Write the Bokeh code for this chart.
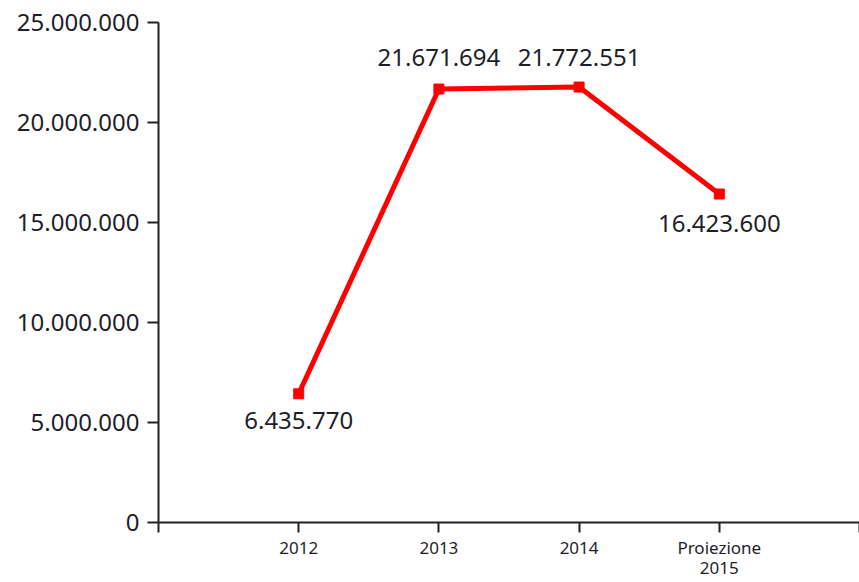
from bokeh.plotting import figure
from bokeh.models import FixedTicker, ColumnDataSource, Range1d
from bokeh.core.properties import value
from bokeh.embed import file_html
from bokeh.resources import INLINE

# ---- data ----
categories = ["2012", "2013", "2014", "Proiezione\n2015"]
cat_pos = [1, 2, 3, 4]
values = [6435770, 21671694, 21772551, 16423600]
value_labels = ["6.435.770", "21.671.694", "21.772.551", "16.423.600"]
y_ticks = [0, 5000000, 10000000, 15000000, 20000000, 25000000]
y_tick_labels = ["0", "5.000.000", "10.000.000", "15.000.000", "20.000.000", "25.000.000"]

# styling: label pixel offsets (positive = down)
label_offsets = [27, -32, -30, 29]

FONT = "Noto Sans"

p = figure(width=859, height=582, output_backend="svg", toolbar_location=None,
           x_range=Range1d(0, 5), y_range=Range1d(0, 25000000),
           min_border_left=158, min_border_right=0, min_border_top=22, min_border_bottom=60)
p.outline_line_color = None
p.xgrid.visible = False
p.ygrid.visible = False
p.background_fill_color = "white"
p.border_fill_color = "white"

# axes
p.xaxis.ticker = FixedTicker(ticks=[0] + cat_pos + [5])
overrides = {0: "", 5: ""}
for pos, c in zip(cat_pos, categories):
    overrides[pos] = c
p.xaxis.major_label_overrides = overrides
p.yaxis.ticker = FixedTicker(ticks=y_ticks)
p.yaxis.major_label_overrides = {t: l for t, l in zip(y_ticks, y_tick_labels)}

for ax in (p.xaxis[0], p.yaxis[0]):
    ax.axis_line_color = "#222222"
    ax.axis_line_width = 2
    ax.major_tick_line_color = "#222222"
    ax.major_tick_line_width = 2
    ax.major_tick_in = 0
    ax.minor_tick_line_color = None
    ax.major_label_text_font = FONT
    ax.major_label_text_color = "#1e1e2a"

p.xaxis.major_tick_out = 10
p.xaxis.major_label_text_font_size = "17px"
p.xaxis.major_label_text_line_height = 0.9
p.xaxis.major_label_standoff = 3
p.yaxis.major_tick_out = 11
p.yaxis.major_label_text_font_size = "24px"
p.yaxis.major_label_standoff = 8

src = ColumnDataSource(dict(x=cat_pos, y=values, lab=value_labels, off=label_offsets))
p.line("x", "y", source=src, line_color="#ff0000", line_width=5)
p.scatter("x", "y", source=src, marker="square", size=10, fill_color="#ff0000", line_color="#ff0000")
p.text("x", "y", text="lab", source=src, y_offset="off", text_align="center", text_baseline="middle",
       text_font=value(FONT), text_font_size="24px", text_color="#1e1e2a")

open("out.html", "w").write(file_html(p, INLINE))
